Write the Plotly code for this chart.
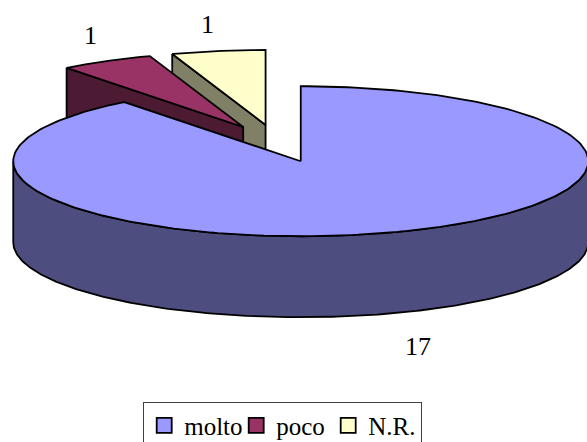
import numpy as np
import plotly.graph_objects as go

categories = ["molto", "poco", "N.R."]
values = [17, 1, 1]
top_colors = ["#9999FF", "#993366", "#FFFFCC"]
side_colors = ["#4D4D80", "#4D1A33", "#808066"]

W, H = 587, 442
CX, CY = 277.4, 143.5   # un-pulled pie centre
RX, RY = 287.5, 75.0
DEPTH = 81.0
PULL = 0.25
LINE = dict(color="black", width=1.8)
FONT = "Liberation Serif"


def pt(cx, cy, t):
    return cx + RX * np.sin(t), cy - RY * np.cos(t)


fractions = np.array(values) / sum(values)
edges = np.concatenate([[0], np.cumsum(fractions)]) * 2 * np.pi

fig = go.Figure()


def poly(xs, ys, color):
    fig.add_trace(go.Scatter(
        x=list(xs), y=list(ys), mode="lines", fill="toself", fillcolor=color,
        line=LINE, showlegend=False, hoverinfo="skip", cliponaxis=True,
    ))


# draw back-most slices first, the large slice last
for i in [2, 1, 0]:
    a, b = edges[i], edges[i + 1]
    mid = (a + b) / 2
    ox, oy = pt(CX, CY, mid)
    cx, cy = CX + (ox - CX) * PULL, CY + (oy - CY) * PULL
    arc = np.linspace(a, b, 240)
    ax, ay = pt(cx, cy, arc)
    if i == 0:
        w = np.linspace(np.pi / 2, 3 * np.pi / 2, 240)
        wx, wy = pt(cx, cy, w)
        poly(np.r_[wx, wx[::-1], wx[0]], np.r_[wy, wy[::-1] + DEPTH, wy[0]], side_colors[i])
    else:
        ex, ey = pt(cx, cy, a)
        poly([ex, cx, cx, ex, ex], [ey, cy, cy + DEPTH, ey + DEPTH, ey], side_colors[i])
    poly(np.r_[cx, ax, cx], np.r_[cy, ay, cy], top_colors[i])

# legend entries
for c, col in zip(categories, top_colors):
    fig.add_trace(go.Scatter(
        x=[None], y=[None], mode="markers", name=c,
        marker=dict(symbol="square", size=15, color=col, line=dict(color="black", width=1.8)),
    ))

label_pos = [(418, 346), (90, 35), (207, 24)]
for v, (lx, ly) in zip(values, label_pos):
    fig.add_annotation(x=lx, y=ly, text=str(v), showarrow=False,
                       font=dict(family=FONT, size=26, color="black"))

fig.update_layout(
    width=W, height=H, margin=dict(l=0, r=0, t=0, b=0, autoexpand=False),
    paper_bgcolor="white", plot_bgcolor="white",
    xaxis=dict(range=[0, W], visible=False, fixedrange=True),
    yaxis=dict(range=[H, 0], visible=False, fixedrange=True),
    legend=dict(orientation="h", x=143 / W, xanchor="left", y=1 - 401.5 / H, yanchor="top",
                bordercolor="#404040", borderwidth=1.2, bgcolor="white",
                font=dict(family=FONT, size=25, color="black"),
                itemwidth=30, tracegroupgap=0, entrywidth=47, entrywidthmode="pixels"),
)
fig.write_html(
    "out.html",
    config={"displayModeBar": False},
    post_script="document.body.style.margin='0';document.documentElement.style.overflow='hidden';",
)
